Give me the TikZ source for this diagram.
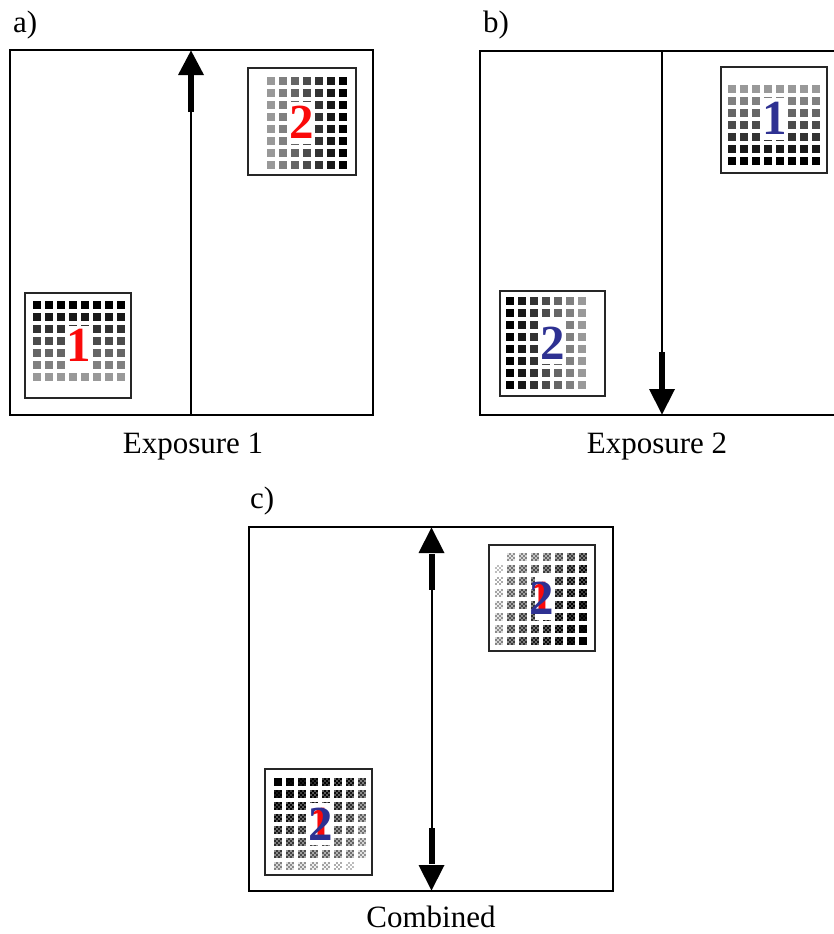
\documentclass[tikz,border=0pt]{standalone}
\usepackage{fontspec}
\setmainfont{Liberation Serif}
\newfontfamily\digitfont{Liberation Serif}[UprightFont=* Bold]
\definecolor{numred}{RGB}{250,10,10}
\definecolor{numblue}{RGB}{46,49,146}
% one cell of a combined (dithered) image: centre x, centre y, grey level
\newcommand\dithercell[3]{%
  \pgfmathtruncatemacro\dd{min(16,#3,100-#3)}%
  \pgfmathtruncatemacro\kd{#3+\dd}%
  \pgfmathtruncatemacro\kl{#3-\dd}%
  \fill[black!\kd] ({#1-4},{#2-4}) rectangle ++(8,8);
  \foreach \i/\j in {0/0,2/0,1/1,3/1,0/2,2/2,1/3,3/3}{
    \fill[black!\kl] ({#1-4+2*\i},{#2-4+2*\j}) rectangle ++(2,2);
  }%
}
\begin{document}
\begin{tikzpicture}[x=1pt,y=-1pt,
  frame/.style={line width=2pt,draw=black},
  samplebox/.style={line width=2.4pt,draw=black!85,fill=white},
  caption/.style={font=\fontsize{31}{36}\selectfont,inner sep=0pt},
  digit/.style={font=\digitfont\fontsize{49}{50}\selectfont,inner sep=0pt},
  thinshaft/.style={line width=2pt},
  thickshaft/.style={line width=6pt},
  headfill/.style={fill=black}]
\useasboundingbox (0,0) rectangle (834,934);

% ---------- panel frames ----------
\draw[frame] (10,50) rectangle (373,415);
\draw[frame] (834,51) -- (480,51) -- (480,415) -- (834,415);
\draw[frame] (249,527) rectangle (613,891);

% ---------- panel captions ----------
\node[caption,anchor=base west] (la) at (13,33) {a)};
\node[caption,anchor=base west] (lb) at (483,33) {b)};
\node[caption,anchor=base west] (lc) at (250,508) {c)};
\node[caption,anchor=base] (ea) at (193,453) {Exposure 1};
\node[caption,anchor=base] (eb) at (657,453) {Exposure 2};
\node[caption,anchor=base] (ec) at (431,927) {Combined};

% ---------- scan arrows ----------
% panel a: upward
\coordinate (a0) at (191,415);
\coordinate (a1) at (191,112);
\coordinate (a2) at (191,75);
\coordinate (a3) at (191,50.5);
\draw[thinshaft] (a0) -- (a1);
\draw[thickshaft] (a1) -- ([yshift=1pt]a2);
\fill[headfill] ([xshift=-13pt]a2) -- ([xshift=13pt]a2) -- (a3) -- cycle;
% panel b: downward
\coordinate (b0) at (662,51);
\coordinate (b1) at (662,352);
\coordinate (b2) at (662,389);
\coordinate (b3) at (662,414.5);
\draw[thinshaft] (b0) -- (b1);
\draw[thickshaft] (b1) -- ([yshift=-1pt]b2);
\fill[headfill] ([xshift=-13pt]b2) -- ([xshift=13pt]b2) -- (b3) -- cycle;
% panel c: both ways
\coordinate (c0) at (431.5,527.5);
\coordinate (c1) at (431.5,553);
\coordinate (c2) at (431.5,590);
\coordinate (c3) at (431.5,828);
\coordinate (c4) at (431.5,865);
\coordinate (c5) at (431.5,890.5);
\fill[headfill] ([xshift=-13pt]c1) -- ([xshift=13pt]c1) -- (c0) -- cycle;
\draw[thickshaft] ([yshift=-1pt]c1) -- (c2);
\draw[thinshaft] (c2) -- (c3);
\draw[thickshaft] (c3) -- ([yshift=1pt]c4);
\fill[headfill] ([xshift=-13pt]c4) -- ([xshift=13pt]c4) -- (c5) -- cycle;

% ---------- panel a, sample 1 (rows darken upwards) ----------
\draw[samplebox] (25,293) rectangle (131,398);
\foreach \c in {0,...,7}{\foreach \r in {0,...,6}{
  \pgfmathtruncatemacro\k{100-10*\r}
  \fill[black!\k] ({36.7+12*\c-4},{305+12*\r-4}) rectangle ++(8,8);
}}
\fill[white] (68.3,325.8) rectangle (89.1,369.5);
\node[digit,text=numred] (na1) at (79,345.5) {1};

% ---------- panel a, sample 2 (columns darken to the right) ----------
\draw[samplebox] (248,68) rectangle (356,175);
\foreach \c in {0,...,6}{\foreach \r in {0,...,7}{
  \pgfmathtruncatemacro\k{40+10*\c}
  \fill[black!\k] ({271+12*\c-4},{81+12*\r-4}) rectangle ++(8,8);
}}
\fill[white] (290.6,101.8) rectangle (311.4,144.2);
\node[digit,text=numred] (na2) at (302,122.5) {2};

% ---------- panel b, sample 2 (columns darken to the left) ----------
\draw[samplebox] (500,291) rectangle (605,396);
\foreach \c in {0,...,6}{\foreach \r in {0,...,7}{
  \pgfmathtruncatemacro\k{100-10*\c}
  \fill[black!\k] ({509.7+12*\c-4},{301+12*\r-4}) rectangle ++(8,8);
}}
\fill[white] (541.3,320.5) rectangle (562.1,364.2);
\node[digit,text=numblue] (nb2) at (552.5,343) {2};

% ---------- panel b, sample 1 (rows darken downwards) ----------
\draw[samplebox] (721,67) rectangle (827,173);
\foreach \c in {0,...,7}{\foreach \r in {0,...,6}{
  \pgfmathtruncatemacro\k{40+10*\r}
  \fill[black!\k] ({732+12*\c-4},{89+12*\r-4}) rectangle ++(8,8);
}}
\fill[white] (763.6,97.8) rectangle (784.4,140.2);
\node[digit,text=numblue] (nb1) at (775,118) {1};

% ---------- panel c, upper sample: weighted sum of both exposures ----------
\draw[samplebox] (489,545) rectangle (595,651);
\foreach \c in {0,...,7}{\foreach \r in {0,...,7}{
  \pgfmathtruncatemacro\kb{(\c>0)*(30+10*\c)}
  \pgfmathtruncatemacro\ka{(\r>0)*(30+10*\r)}
  \pgfmathtruncatemacro\k{min(100,0.68*\kb+0.34*\ka)}
  \ifnum\k>0
    \dithercell{499+12*\c}{557+12*\r}{\k}
  \fi
}}
\fill[white] (534.6,576.5) rectangle (555.4,620.2);
\node[digit,text=numred] (nc1a) at (542,598) {1};
\node[digit,text=numblue] (nc1b) at (542,598) {2};

% ---------- panel c, lower sample: weighted sum of both exposures ----------
\draw[samplebox] (265,769) rectangle (372,875);
\foreach \c in {0,...,7}{\foreach \r in {0,...,7}{
  \pgfmathtruncatemacro\ka{(\r<7)*(100-10*\r)}
  \pgfmathtruncatemacro\kb{(\c<7)*(100-10*\c)}
  \pgfmathtruncatemacro\k{min(100,0.68*\ka+0.34*\kb)}
  \ifnum\k>0
    \dithercell{278+12*\c}{781.7+12*\r}{\k}
  \fi
}}
\fill[white] (309.6,802.5) rectangle (330.4,844.9);
\node[digit,text=numred] (nc2a) at (321,824) {1};
\node[digit,text=numblue] (nc2b) at (321,824) {2};
\end{tikzpicture}
\end{document}
